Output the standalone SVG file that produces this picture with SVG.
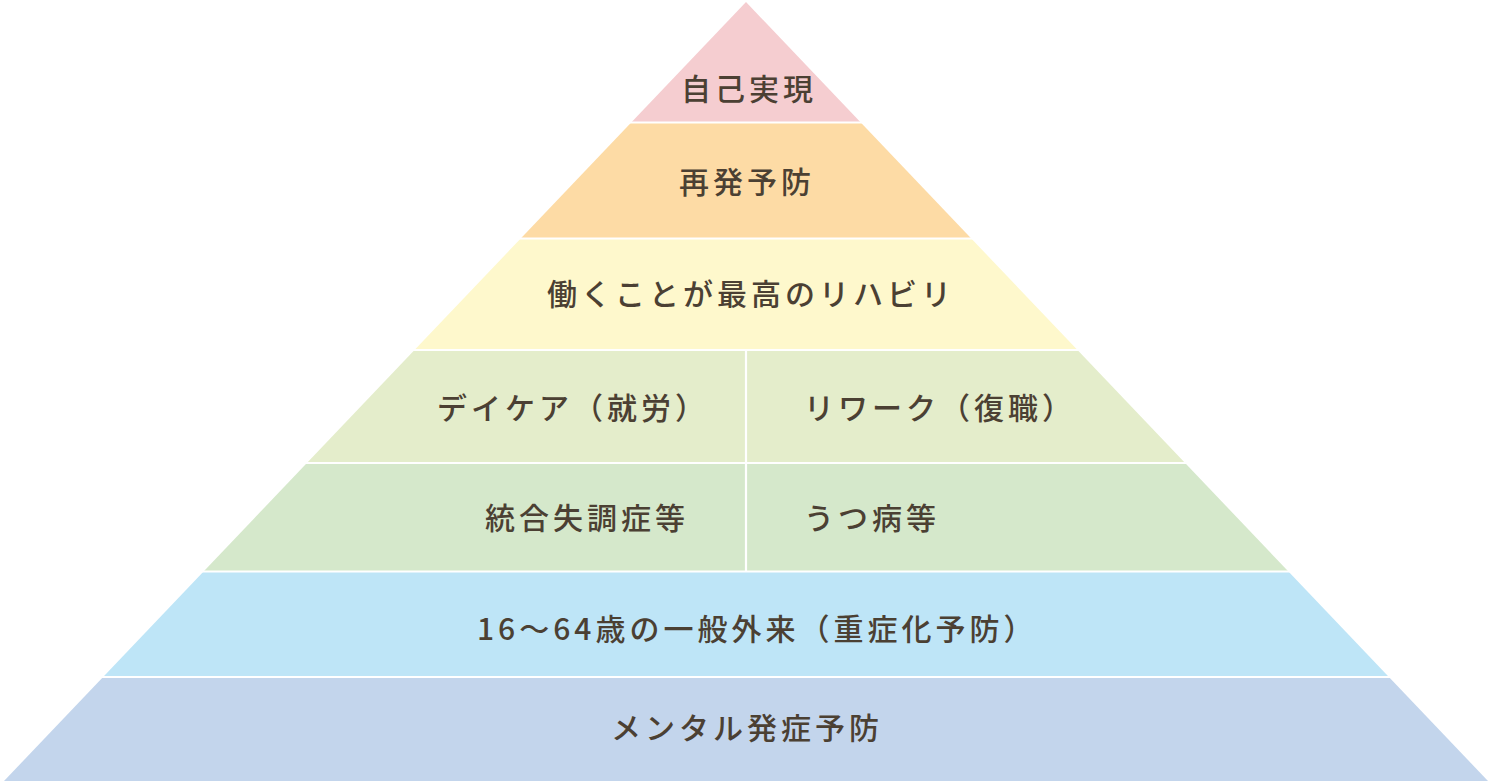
<svg xmlns="http://www.w3.org/2000/svg" width="1492" height="783" viewBox="0 0 1492 783">
<style>
.t{font-family:"Noto Sans CJK JP","Noto Sans",sans-serif;font-size:30px;font-weight:500;fill:#4b4033;letter-spacing:4px;dominant-baseline:central}
.sep{stroke:#ffffff;stroke-width:2.2;fill:none}
</style>
<rect width="1492" height="783" fill="#ffffff"/>
<g id="layer1"><polygon points="746,2 860.3,122 631.7,122" fill="#f5cdd0"/><text class="t" x="681" y="87">自己実現</text></g>
<g id="layer2"><polygon points="631.7,122 860.3,122 970.8,238 521.2,238" fill="#fddba5"/><text class="t" x="679" y="180">再発予防</text></g>
<g id="layer3"><polygon points="521.2,238 970.8,238 1077.5,350 414.5,350" fill="#fef8cc"/><text class="t" x="547" y="292">働くことが最高のリハビリ</text></g>
<g id="layer4a"><polygon points="414.5,350 746,350 746,463 306.9,463" fill="#e4edcb"/><text class="t" x="437" y="406">デイケア（就労）</text></g>
<g id="layer4b"><polygon points="746,350 1077.5,350 1185.1,463 746,463" fill="#e4edcb"/><text class="t" x="804" y="406">リワーク（復職）</text></g>
<g id="layer5a"><polygon points="306.9,463 746,463 746,572 203.1,572" fill="#d5e8cb"/><text class="t" x="485" y="516">統合失調症等</text></g>
<g id="layer5b"><polygon points="746,463 1185.1,463 1288.9,572 746,572" fill="#d5e8cb"/><text class="t" x="804" y="516">うつ病等</text></g>
<g id="layer6"><polygon points="203.1,572 1288.9,572 1388.9,677 103.1,677" fill="#bee5f7"/><text class="t" x="477" y="627">16～64歳の一般外来（重症化予防）</text></g>
<g id="layer7"><polygon points="103.1,677 1388.9,677 1488,781 4,781" fill="#c3d5ec"/><text class="t" x="611" y="726">メンタル発症予防</text></g>
<g id="connectors">
<line class="sep" x1="0" y1="122.5" x2="1492" y2="122.5"/>
<line class="sep" x1="0" y1="238.5" x2="1492" y2="238.5"/>
<line class="sep" x1="0" y1="350" x2="1492" y2="350"/>
<line class="sep" x1="0" y1="463" x2="1492" y2="463"/>
<line class="sep" x1="0" y1="571.5" x2="1492" y2="571.5"/>
<line class="sep" x1="0" y1="677" x2="1492" y2="677"/>
<line class="sep" x1="746" y1="350" x2="746" y2="572"/>
</g>
</svg>
